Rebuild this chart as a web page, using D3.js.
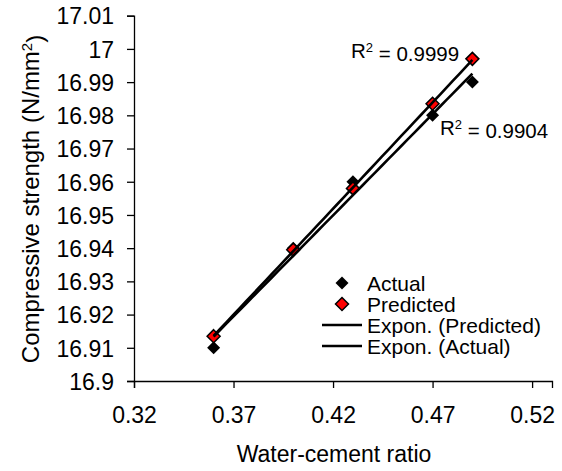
<!DOCTYPE html>
<html>
<head>
<meta charset="utf-8">
<script src="https://cdn.jsdelivr.net/npm/d3@7"></script>
<style>
  body { margin: 0; background: #fff; }
  svg text { font-family: "Liberation Sans", Arial, sans-serif; fill: #000; }
</style>
</head>
<body>
<div class="chart"></div>
<script>
// chart data
var ratios = [0.36, 0.40, 0.43, 0.47, 0.49];
var actual = [16.91, 16.94, 16.96, 16.98, 16.99];
var predicted = [16.9135, 16.9395, 16.958, 16.9835, 16.997];
var xTicks = [0.32, 0.37, 0.42, 0.47, 0.52];
var yTicks = [16.9, 16.91, 16.92, 16.93, 16.94, 16.95, 16.96, 16.97, 16.98, 16.99, 17, 17.01];
var r2Labels = ["0.9999", "0.9904"];
var legendNames = ["Actual", "Predicted", "Expon. (Predicted)", "Expon. (Actual)"];

var svgWidth = 562;
var svgHeight = 471;
var margin = { top: 15.7, right: 10, bottom: 90, left: 134 };
var width = 552 - margin.left;
var height = 381 - margin.top;

var svg = d3.select(".chart")
  .append("svg")
  .attr("width", svgWidth)
  .attr("height", svgHeight);

var chart = svg.append("g")
  .attr("transform", `translate(${margin.left}, ${margin.top})`);

var xScale = d3.scaleLinear().domain([0.32, 0.53]).range([0, width]);
var yScale = d3.scaleLinear().domain([16.9, 17.01]).range([height, 0]);

// axes
var xAxis = d3.axisBottom(xScale).tickValues(xTicks).tickSize(7).tickPadding(19)
  .tickFormat(d3.format(".2f"));
var yAxis = d3.axisLeft(yScale).tickValues(yTicks).tickSize(7).tickPadding(13)
  .tickFormat(function(d) { return String(+d.toFixed(2)); });

var gx = chart.append("g").attr("transform", `translate(0, ${height})`).call(xAxis);
var gy = chart.append("g").call(yAxis);
[gx, gy].forEach(function(g) {
  g.attr("font-size", 23).attr("font-family", null);
  g.select(".domain").attr("stroke", "#000").attr("stroke-width", 1.3);
  g.selectAll(".tick line").attr("stroke", "#000").attr("stroke-width", 1.3);
  g.selectAll(".tick text").attr("fill", "#000");
});
gy.selectAll(".tick text").attr("dy", "0.36em");

// axis titles
svg.append("text")
  .attr("x", 334).attr("y", 462)
  .attr("text-anchor", "middle")
  .attr("font-size", 23)
  .text("Water-cement ratio");

var yTitle = svg.append("text")
  .attr("transform", "translate(39, 199) rotate(-90)")
  .attr("text-anchor", "middle")
  .attr("font-size", 24);
yTitle.append("tspan").text("Compressive strength (N/mm");
yTitle.append("tspan").attr("dy", "-0.45em").attr("font-size", 15).text("2");
yTitle.append("tspan").attr("dy", "0.45em").text(")");

// exponential trend fit y = a*e^(bx) via least squares on ln(y)
function expFit(xs, ys) {
  var ly = ys.map(Math.log);
  var mx = d3.mean(xs), my = d3.mean(ly);
  var sxy = d3.sum(xs, function(x, i) { return (x - mx) * (ly[i] - my); });
  var sxx = d3.sum(xs, function(x) { return (x - mx) * (x - mx); });
  var b = sxy / sxx;
  var a = Math.exp(my - b * mx);
  return function(x) { return a * Math.exp(b * x); };
}

var fitPred = expFit(ratios, predicted);
var fitAct = expFit(ratios, actual);
var xs = d3.range(0, 41).map(function(i) {
  return d3.min(ratios) + (d3.max(ratios) - d3.min(ratios)) * i / 40;
});

var diamond = "M0,-6.5L6.5,0L0,6.5L-6.5,0Z";

// markers
chart.selectAll(".actual")
  .data(ratios).enter().append("path")
  .attr("class", "actual")
  .attr("d", diamond)
  .attr("transform", function(d, i) { return `translate(${xScale(d)}, ${yScale(actual[i])})`; })
  .attr("fill", "#000");

chart.selectAll(".predicted")
  .data(ratios).enter().append("path")
  .attr("class", "predicted")
  .attr("d", diamond)
  .attr("transform", function(d, i) { return `translate(${xScale(d)}, ${yScale(predicted[i])})`; })
  .attr("fill", "#ff0000")
  .attr("stroke", "#000")
  .attr("stroke-width", 1.5);

// trend lines
var line = d3.line().x(function(d) { return xScale(d[0]); }).y(function(d) { return yScale(d[1]); });
[fitPred, fitAct].forEach(function(f) {
  chart.append("path")
    .datum(xs.map(function(x) { return [x, f(x)]; }))
    .attr("d", line)
    .attr("fill", "none")
    .attr("stroke", "#000")
    .attr("stroke-width", 2.6);
});

// R^2 labels
function r2(x, y, val) {
  var t = svg.append("text").attr("x", x).attr("y", y).attr("font-size", 20.5);
  t.append("tspan").text("R");
  t.append("tspan").attr("dy", "-0.45em").attr("font-size", 13).text("2");
  t.append("tspan").attr("dy", "0.45em").text(" = " + val);
}
r2(351, 57.5, r2Labels[0]);
r2(440, 135, r2Labels[1]);

// legend
var legend = svg.append("g").attr("transform", "translate(342, 283)");
var rowH = 21;
legendNames.forEach(function(name, i) {
  var g = legend.append("g").attr("transform", `translate(0, ${i * rowH})`);
  if (i === 0) {
    g.append("path").attr("d", diamond).attr("fill", "#000");
  } else if (i === 1) {
    g.append("path").attr("d", diamond).attr("fill", "#ff0000").attr("stroke", "#000").attr("stroke-width", 1.5);
  } else {
    g.append("line").attr("x1", -20).attr("x2", 20).attr("stroke", "#000").attr("stroke-width", 2.6);
  }
  g.append("text").attr("x", 25).attr("dy", "0.36em").attr("font-size", 21).text(name);
});
</script>
</body>
</html>
